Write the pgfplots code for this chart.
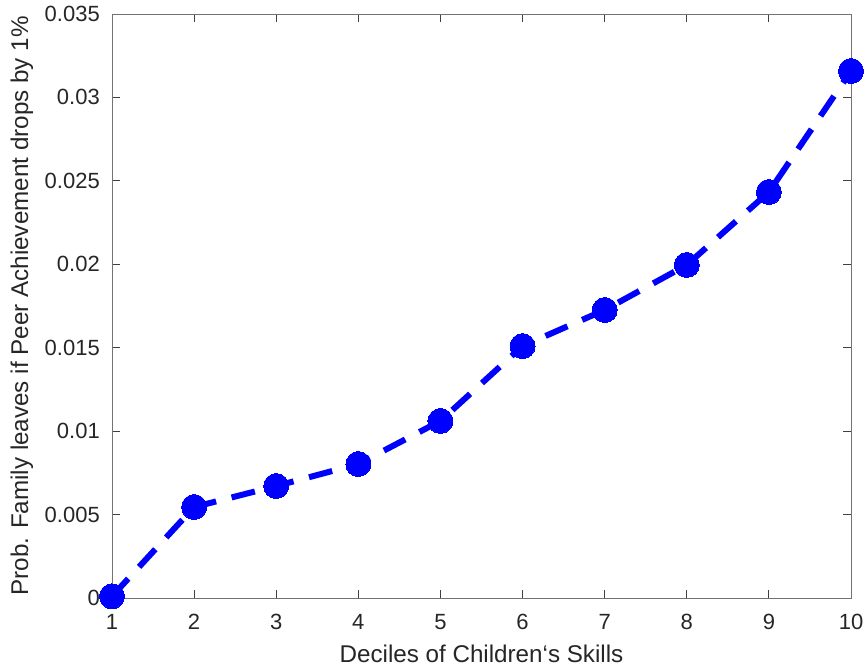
\documentclass[border=0pt]{standalone}
\usepackage{fontspec}
\setmainfont{Liberation Sans}
\usepackage{pgfplots}
\pgfplotsset{compat=1.18}
\definecolor{tickc}{HTML}{262626}
\begin{document}
\begin{tikzpicture}
\begin{axis}[
  name=ax,
  scale only axis,
  width=739pt, height=584pt,
  xmin=1, xmax=10, ymin=0, ymax=0.035,
  xtick={1,...,10},
  ytick={0,0.005,0.01,0.015,0.02,0.025,0.03,0.035},
  scaled y ticks=false,
  tick align=inside,
  major tick length=8pt,
  tick style={black!75, line width=0.8pt},
  axis line style={black!55, line width=0.8pt},
  /pgf/number format/assume math mode=true,
  xticklabel style={font=\fontsize{22}{26}\selectfont, text=tickc, anchor=base, yshift=-32pt},
  yticklabel style={/pgf/number format/fixed, /pgf/number format/precision=3,
    font=\fontsize{22}{26}\selectfont, text=tickc, anchor=east, inner sep=0pt, xshift=-12pt},
  xlabel={Deciles of Children‘s Skills},
  ylabel={Prob. Family leaves if Peer Achievement drops by 1\%},
  every axis x label/.style={at={(axis description cs:0.5,-0.1113)}, anchor=base, font=\fontsize{24.2}{28}\selectfont, text=tickc},
  every axis y label/.style={at={(axis description cs:-0.1218,0.5)}, rotate=90, anchor=center, font=\fontsize{24.2}{28}\selectfont, text=tickc},
  clip=false,
]
\addplot[blue, line width=6pt, dash pattern=on 24pt off 16pt, line cap=butt,
  mark=*, mark size=12.5pt, mark options={solid, fill=blue, draw=blue, line width=0pt}]
coordinates {
(1,0.0001) (2,0.00545) (3,0.00671) (4,0.00803) (5,0.01061)
(6,0.0151) (7,0.01726) (8,0.01996) (9,0.02433) (10,0.03158)
};
\end{axis}
\pgfresetboundingbox
\path (ax.south west) ++(-112pt,-73pt) coordinate (bl);
\path (ax.north east) ++(16pt,14pt) coordinate (tr);
\path[use as bounding box] (bl) rectangle (tr);
\end{tikzpicture}
\end{document}
